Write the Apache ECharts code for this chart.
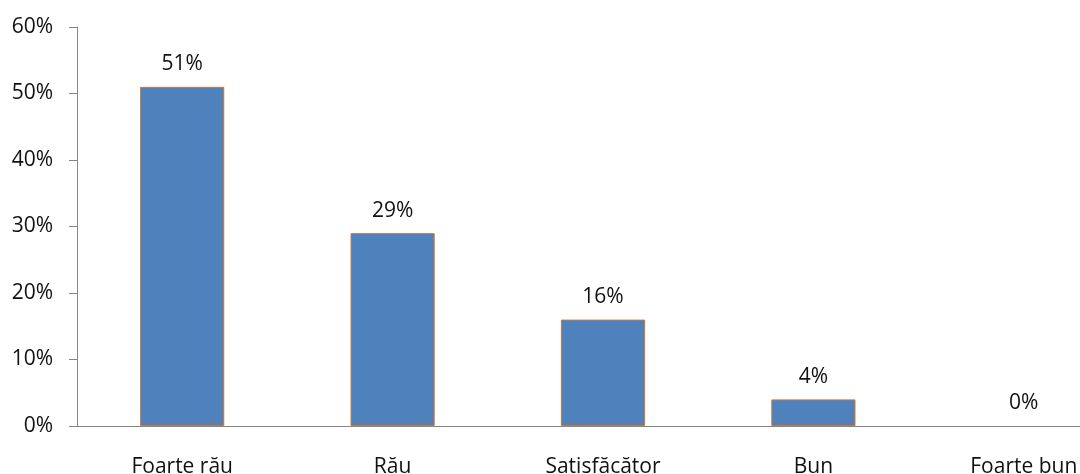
<!DOCTYPE html>
<html>
<head>
<meta charset="utf-8">
<script src="https://cdn.jsdelivr.net/npm/echarts@6/dist/echarts.min.js"></script>
<style>
  html, body { margin: 0; padding: 0; background: #fff; }
  #chart { width: 1080px; height: 474px; }
</style>
</head>
<body>
<div id="chart"></div>
<script>
var categories = ['Foarte rău', 'Rău', 'Satisfăcător', 'Bun', 'Foarte bun'];
var values = [51, 29, 16, 4, 0];

var chart = echarts.init(document.getElementById('chart'));
var font = '"Open Sans", sans-serif';

chart.setOption({
    animation: false,
    grid: { left: 77, width: 1052, top: 27, height: 399, outerBoundsMode: 'none', containLabel: false },
    xAxis: {
        type: 'category',
        data: categories,
        boundaryGap: true,
        axisLine: { lineStyle: { color: '#868686', width: 1 } },
        axisTick: { alignWithLabel: true, length: 5, lineStyle: { color: '#868686' } },
        axisLabel: { margin: 31, color: '#111', fontSize: 21, fontFamily: font }
    },
    yAxis: {
        type: 'value',
        min: 0,
        max: 60,
        interval: 10,
        axisLine: { show: true, lineStyle: { color: '#868686', width: 1 } },
        axisTick: { show: true, length: 8, lineStyle: { color: '#868686' } },
        splitLine: { show: false },
        axisLabel: { margin: 24, color: '#111', fontSize: 21, fontFamily: font, formatter: '{value}%' }
    },
    series: [{
        type: 'bar',
        data: values.map(function (v) {
            return v === 0 ? { value: v, itemStyle: { borderWidth: 0 } } : v;
        }),
        barWidth: '40%',
        itemStyle: { color: '#4F81BD', borderColor: '#D0762E', borderWidth: 1 },
        label: {
            show: true,
            position: 'top',
            distance: 12,
            color: '#111',
            fontSize: 21,
            fontFamily: font,
            formatter: '{c}%'
        }
    }]
});
</script>
</body>
</html>
